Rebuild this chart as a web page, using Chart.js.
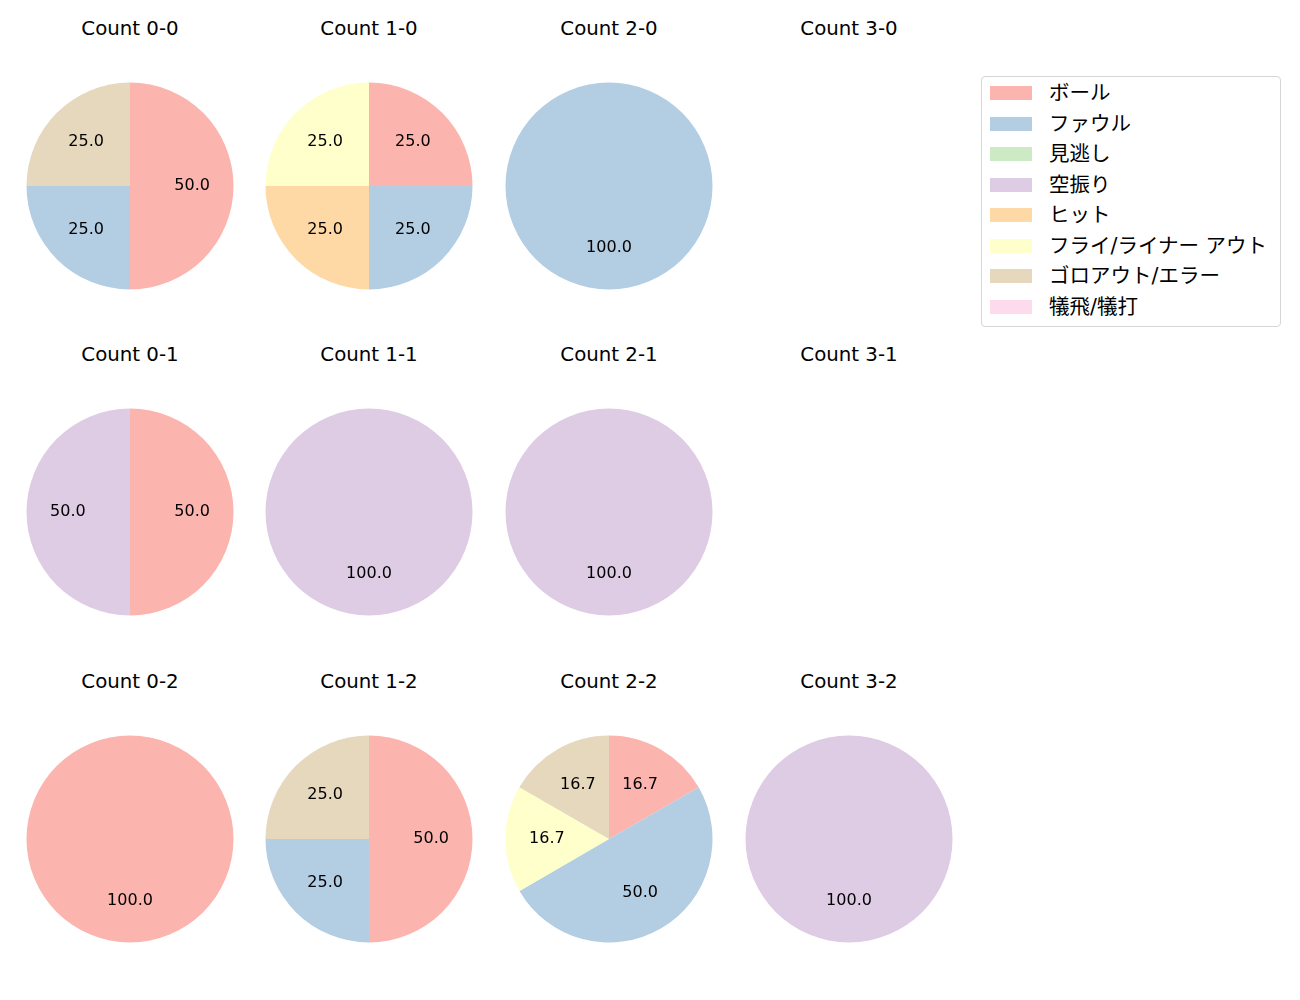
<!DOCTYPE html>
<html>
<head>
<meta charset="utf-8">
<script src="https://cdn.jsdelivr.net/npm/chart.js@4"></script>
<style>
    body { margin: 0; background: #fff; font-family: "DejaVu Sans", "Noto Sans CJK JP", sans-serif; }
    #wrap { position: relative; width: 1300px; height: 1000px; }
    .title { position: absolute; width: 200px; text-align: center; font-size: 19.8px; color: #000; line-height: 24px; }
    .cell { position: absolute; width: 220px; height: 220px; }
    #legend { position: absolute; left: 981px; top: 76px; width: 298px; height: 249px;
              border: 1px solid #d6d6d6; border-radius: 4px; }
    .row { position: absolute; left: 0; height: 20px; font-size: 20.5px; line-height: 20px; }
    .swatch { position: absolute; left: 8px; top: 3px; width: 42px; height: 14px; }
    .lbl { position: absolute; left: 67px; top: 0; white-space: nowrap; }
</style>
</head>
<body>
<div id="wrap"></div>
<script>
const categories = ['ボール', 'ファウル', '見逃し', '空振り', 'ヒット', 'フライ/ライナー アウト', 'ゴロアウト/エラー', '犠飛/犠打'];
const colors = ['#fbb4ae', '#b3cde3', '#ccebc5', '#decbe4', '#fed9a6', '#ffffcc', '#e5d8bd', '#fddaec'];

const countLabels = [
    ['Count 0-0', 'Count 1-0', 'Count 2-0', 'Count 3-0'],
    ['Count 0-1', 'Count 1-1', 'Count 2-1', 'Count 3-1'],
    ['Count 0-2', 'Count 1-2', 'Count 2-2', 'Count 3-2']
];

// percentages per count, in category order
const count00 = [50, 25, 0, 0, 0, 0, 25, 0];
const count10 = [25, 25, 0, 0, 25, 25, 0, 0];
const count20 = [0, 100, 0, 0, 0, 0, 0, 0];
const count30 = [0, 0, 0, 0, 0, 0, 0, 0];
const count01 = [50, 0, 0, 50, 0, 0, 0, 0];
const count11 = [0, 0, 0, 100, 0, 0, 0, 0];
const count21 = [0, 0, 0, 100, 0, 0, 0, 0];
const count31 = [0, 0, 0, 0, 0, 0, 0, 0];
const count02 = [100, 0, 0, 0, 0, 0, 0, 0];
const count12 = [50, 25, 0, 0, 0, 0, 25, 0];
const count22 = [16.7, 50, 0, 0, 0, 16.7, 16.7, 0];
const count32 = [0, 0, 0, 100, 0, 0, 0, 0];

const grid = [
    [count00, count10, count20, count30],
    [count01, count11, count21, count31],
    [count02, count12, count22, count32]
];

const colX = [130, 369, 609, 849];
const rowY = [186, 512, 839];

// draws the value labels at 0.6 of the radius, like matplotlib autopct
const pctLabels = {
    id: 'pctLabels',
    afterDatasetsDraw(chart) {
        const ctx = chart.ctx;
        const meta = chart.getDatasetMeta(0);
        const values = chart.data.datasets[0].data;
        ctx.save();
        ctx.font = '16px "DejaVu Sans", sans-serif';
        ctx.fillStyle = '#000';
        ctx.textAlign = 'center';
        ctx.textBaseline = 'middle';
        meta.data.forEach((arc, i) => {
            if (!values[i]) return;
            const mid = (arc.startAngle + arc.endAngle) / 2;
            const r = arc.outerRadius * 0.6;
            ctx.fillText(values[i].toFixed(1), arc.x + Math.cos(mid) * r, arc.y + Math.sin(mid) * r);
        });
        ctx.restore();
    }
};

const wrap = document.getElementById('wrap');

for (let r = 0; r < 3; r++) {
    for (let c = 0; c < 4; c++) {
        const title = document.createElement('div');
        title.className = 'title';
        title.style.left = (colX[c] - 100) + 'px';
        title.style.top = (rowY[r] - 169) + 'px';
        title.textContent = countLabels[r][c];
        wrap.appendChild(title);

        const cell = document.createElement('div');
        cell.className = 'cell';
        cell.style.left = (colX[c] - 110) + 'px';
        cell.style.top = (rowY[r] - 110) + 'px';
        const canvas = document.createElement('canvas');
        cell.appendChild(canvas);
        wrap.appendChild(cell);

        new Chart(canvas, {
            type: 'pie',
            data: {
                labels: categories,
                datasets: [{
                    data: grid[r][c],
                    backgroundColor: colors,
                    borderWidth: 0,
                    hoverOffset: 0
                }]
            },
            options: {
                responsive: true,
                maintainAspectRatio: false,
                animation: false,
                radius: 103.5,
                plugins: {
                    legend: { display: false },
                    tooltip: { enabled: false }
                }
            },
            plugins: [pctLabels]
        });
    }
}

// legend
const legend = document.createElement('div');
legend.id = 'legend';
categories.forEach((name, i) => {
    const row = document.createElement('div');
    row.className = 'row';
    row.style.top = (6 + i * 30.57) + 'px';
    row.innerHTML = `<div class="swatch" style="background:${colors[i]}"></div><div class="lbl">${name}</div>`;
    legend.appendChild(row);
});
wrap.appendChild(legend);
</script>
</body>
</html>
